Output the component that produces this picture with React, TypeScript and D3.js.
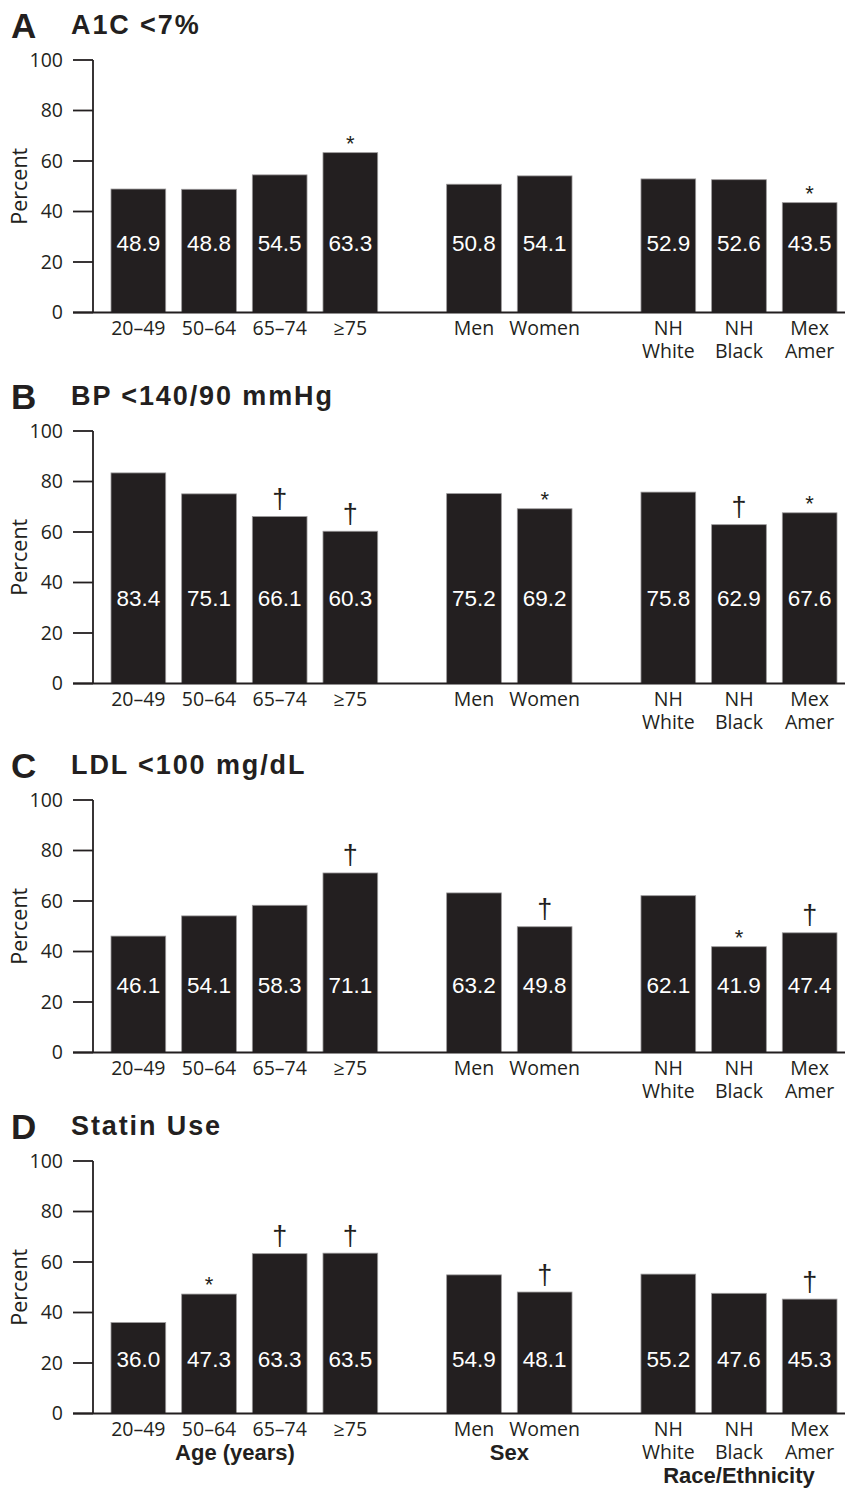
import React from "react";
import * as d3 from "d3";

const categories = ["20–49", "50–64", "65–74", "≥75", "Men", "Women", "NH White", "NH Black", "Mex Amer"];
const categoryLines = [["20–49"], ["50–64"], ["65–74"], ["≥75"], ["Men"], ["Women"], ["NH", "White"], ["NH", "Black"], ["Mex", "Amer"]];
const groupOf = [0, 0, 0, 0, 1, 1, 2, 2, 2];
const groupNames = ["Age (years)", "Sex", "Race/Ethnicity"];
const yTicks = [0, 20, 40, 60, 80, 100];

const panelLetters = ["A", "B", "C", "D"];
const panelTitles = ["A1C <7%", "BP <140/90 mmHg", "LDL <100 mg/dL", "Statin Use"];

const a1cValues = [48.9, 48.8, 54.5, 63.3, 50.8, 54.1, 52.9, 52.6, 43.5];
const bpValues = [83.4, 75.1, 66.1, 60.3, 75.2, 69.2, 75.8, 62.9, 67.6];
const ldlValues = [46.1, 54.1, 58.3, 71.1, 63.2, 49.8, 62.1, 41.9, 47.4];
const statinValues = [36.0, 47.3, 63.3, 63.5, 54.9, 48.1, 55.2, 47.6, 45.3];

const a1cMarks = ["", "", "", "*", "", "", "", "", "*"];
const bpMarks = ["", "", "†", "†", "", "*", "", "†", "*"];
const ldlMarks = ["", "", "", "†", "", "†", "", "*", "†"];
const statinMarks = ["", "*", "†", "†", "", "†", "", "", "†"];

const panelValues = [a1cValues, bpValues, ldlValues, statinValues];
const panelMarks = [a1cMarks, bpMarks, ldlMarks, statinMarks];

// layout (not data)
const panelTop = [60, 431, 800, 1161];
const panelHeight = 252.5;
const labelLevel = [27.7, 33.7, 26.8, 21.4];
const GROUP_GAP = 0.75;
const BAR_W = 54.7;
const DARK = "#231f20";
const SANS = "'Liberation Sans', Arial, Helvetica, sans-serif";
const MYR = "'Open Sans', 'Noto Sans', sans-serif";

const xScale = d3.scaleLinear().domain([0, 8 + GROUP_GAP * 2]).range([111, 782.3]);
const xPos = (i: number) => xScale(i + GROUP_GAP * groupOf[i]);

function Panel({ idx }: { idx: number }) {
  const top = panelTop[idx];
  const y = d3.scaleLinear().domain([0, 100]).range([top + panelHeight, top]);
  const values = panelValues[idx];
  const marks = panelMarks[idx];
  const base = y(0);
  const labelY = y(labelLevel[idx]) + 8;
  return (
    <g>
      <text x={11} y={top - 22} fontFamily={SANS} fontWeight="bold" fontSize={35} fill={DARK}>
        {panelLetters[idx]}
      </text>
      <text x={71} y={top - 26} fontFamily={SANS} fontWeight="bold" fontSize={27} letterSpacing={1.9} fill={DARK}>
        {panelTitles[idx]}
      </text>
      {values.map((v, i) => (
        <rect key={"b" + i} x={xPos(i)} y={y(v)} width={BAR_W} height={base - y(v)} fill={DARK} stroke="#9a9899" strokeWidth={0.8} />
      ))}
      {values.map((v, i) => (
        <text key={"v" + i} x={xPos(i) + BAR_W / 2} y={labelY} textAnchor="middle" fontFamily={SANS} fontSize={22.5} fill="#ffffff">
          {v.toFixed(1)}
        </text>
      ))}
      {marks.map((m, i) =>
        m === "" ? null : m === "*" ? (
          <text key={"m" + i} x={xPos(i) + BAR_W / 2} y={y(values[i]) - 2} textAnchor="middle" fontFamily={SANS} fontSize={22} fill={DARK}>
            *
          </text>
        ) : (
          <text key={"m" + i} x={xPos(i) + BAR_W / 2} y={y(values[i]) - 8.5} textAnchor="middle" fontFamily={SANS} fontSize={27} fill={DARK}>
            †
          </text>
        )
      )}
      {/* axes */}
      <line x1={93} x2={93} y1={top} y2={base} stroke={DARK} strokeWidth={1.8} />
      <line x1={73} x2={845} y1={base} y2={base} stroke={DARK} strokeWidth={1.8} />
      {yTicks.map((t) => (
        <g key={"t" + t}>
          <line x1={73} x2={93} y1={y(t)} y2={y(t)} stroke={DARK} strokeWidth={1.8} />
          <text x={63} y={y(t) + 6.8} textAnchor="end" fontFamily={MYR} fontSize={19.5} fill={DARK}>
            {t}
          </text>
        </g>
      ))}
      <text
        transform={`translate(26.5, ${(top + base) / 2}) rotate(-90)`}
        textAnchor="middle"
        fontFamily={MYR}
        fontSize={21.5}
        fill={DARK}
      >
        Percent
      </text>
      {categoryLines.map((lines, i) =>
        lines.map((l, k) => (
          <text
            key={"c" + i + "_" + k}
            x={xPos(i) + BAR_W / 2}
            y={base + 22.5 + k * 23.3}
            textAnchor="middle"
            fontFamily={MYR}
            fontSize={19.5}
            fill={DARK}
          >
            {l}
          </text>
        ))
      )}
      {idx === 3 &&
        groupNames.map((g, gi) => {
          const members = categories.map((_, i) => i).filter((i) => groupOf[i] === gi);
          const cx = gi === 0 ? 235 : (xPos(members[0]) + xPos(members[members.length - 1]) + BAR_W) / 2;
          const maxLines = d3.max(members, (i) => categoryLines[i].length) || 1;
          return (
            <text key={"g" + gi} x={cx} y={base + 23 + maxLines * 23.3} textAnchor="middle" fontFamily={SANS} fontWeight="bold" fontSize={22} fill={DARK}>
              {g}
            </text>
          );
        })}
    </g>
  );
}

export default function App() {
  return (
    <svg width={847} height={1488} style={{ position: "absolute", left: 0, top: 0, background: "#fff" }}>
      <rect width={847} height={1488} fill="#fff" />
      {[0, 1, 2, 3].map((i) => (
        <Panel key={i} idx={i} />
      ))}
    </svg>
  );
}
